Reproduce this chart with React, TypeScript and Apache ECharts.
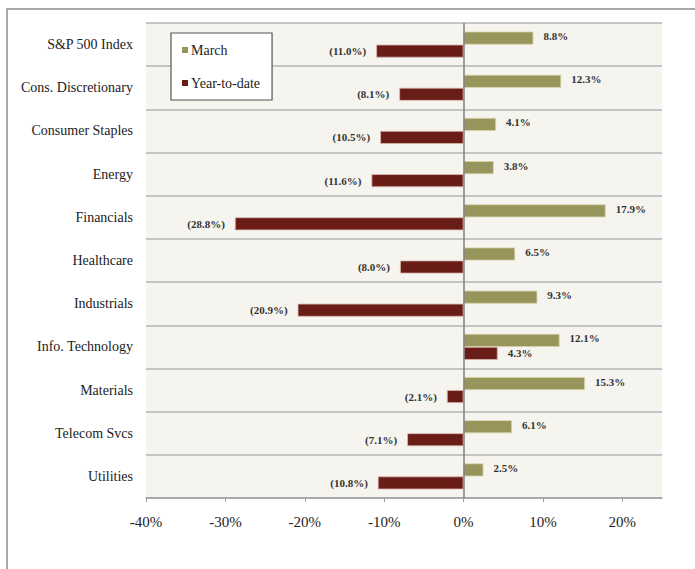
import React, { useEffect, useRef } from "react";
import * as echarts from "echarts";

const categories = [
  "S&P 500 Index",
  "Cons. Discretionary",
  "Consumer Staples",
  "Energy",
  "Financials",
  "Healthcare",
  "Industrials",
  "Info. Technology",
  "Materials",
  "Telecom Svcs",
  "Utilities",
];
const marchValues = [8.8, 12.3, 4.1, 3.8, 17.9, 6.5, 9.3, 12.1, 15.3, 6.1, 2.5];
const ytdValues = [-11.0, -8.1, -10.5, -11.6, -28.8, -8.0, -20.9, 4.3, -2.1, -7.1, -10.8];
const xTicks = { min: -40, max: 25, interval: 10 };

const FONT = '"Liberation Serif", "Times New Roman", serif';

const fmt = (v: number) => (v < 0 ? `(${Math.abs(v).toFixed(1)}%)` : `${v.toFixed(1)}%`);

export default function App() {
  const ref = useRef<HTMLDivElement>(null);
  useEffect(() => {
    if (!ref.current) return;
    const chart = echarts.init(ref.current, undefined, { renderer: "svg" });
    chart.setOption({
      animation: false,
      backgroundColor: "#ffffff",
      textStyle: { fontFamily: FONT },
      graphic: [
        {
          type: "rect",
          shape: { x: 7, y: 9, width: 720, height: 600 },
          style: { fill: "none", stroke: "#a8a8a8", lineWidth: 2 },
          silent: true,
        },
      ],
      legend: {
        orient: "vertical",
        left: 171,
        top: 33,
        backgroundColor: "#ffffff",
        borderColor: "#555555",
        borderWidth: 1.2,
        padding: [10, 12, 10, 11],
        itemGap: 19,
        itemWidth: 6,
        itemHeight: 6,
        icon: "rect",
        itemStyle: { borderWidth: 0 },
        textStyle: { fontFamily: FONT, fontSize: 14, color: "#222", padding: [0, 0, 0, -2] },
        data: ["March", "Year-to-date"],
      },
      grid: {
        left: 146,
        right: 33,
        top: 23,
        bottom: 71,
        show: true,
        backgroundColor: "#f5f4ee",
        borderWidth: 0,
      },
      xAxis: {
        type: "value",
        min: xTicks.min,
        max: xTicks.max,
        interval: xTicks.interval,
        axisLine: { show: true, lineStyle: { color: "#a0a0a0", width: 1.5 } },
        axisTick: { show: true, length: 4, lineStyle: { color: "#a0a0a0" } },
        splitLine: { show: false },
        axisLabel: {
          formatter: (v: number) => `${v}%`,
          showMaxLabel: false,
          fontFamily: FONT,
          fontSize: 15,
          color: "#222",
          margin: 16,
        },
      },
      yAxis: {
        type: "category",
        inverse: true,
        data: categories,
        axisLine: { show: false, onZero: false },
        axisTick: { show: false },
        splitLine: { show: true, lineStyle: { color: "#b4b4b4", width: 1.5 } },
        axisLabel: {
          fontFamily: FONT,
          fontSize: 14,
          color: "#222",
          margin: 13,
          padding: [3, 0, 0, 0],
        },
      },
      series: [
        {
          name: "March",
          type: "bar",
          data: marchValues,
          barWidth: 13,
          barGap: "0%",
          itemStyle: { color: "#97955b", borderColor: "#d6d4a8", borderWidth: 0.8 },
          label: {
            show: true,
            position: "right",
            distance: 10,
            offset: [0, -2],
            formatter: (p: any) => fmt(p.value),
            fontFamily: FONT,
            fontSize: 11,
            fontWeight: "bold",
            color: "#333",
          },
          markLine: {
            silent: true,
            symbol: "none",
            label: { show: false },
            lineStyle: { color: "#808080", width: 1.5, type: "solid" },
            data: [{ xAxis: 0 }],
          },
        },
        {
          name: "Year-to-date",
          type: "bar",
          data: ytdValues.map((v) => ({
            value: v,
            label: { position: v < 0 ? "left" : "right" },
          })),
          barWidth: 13,
          barGap: "0%",
          itemStyle: { color: "#6a1d17", borderColor: "#d9b8b0", borderWidth: 0.8 },
          label: {
            show: true,
            distance: 10,
            formatter: (p: any) => fmt(p.value),
            fontFamily: FONT,
            fontSize: 11,
            fontWeight: "bold",
            color: "#333",
          },
        },
      ],
    });
    return () => chart.dispose();
  }, []);
  return (
    <div
      ref={ref}
      style={{ position: "absolute", left: 0, top: 0, width: 695, height: 569 }}
    />
  );
}
